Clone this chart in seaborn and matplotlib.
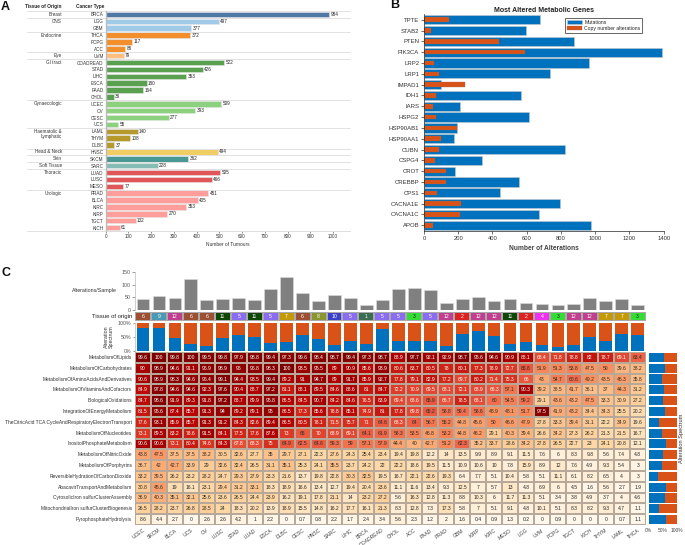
import numpy as np
import pandas as pd
import seaborn as sns
import matplotlib
matplotlib.use('Agg')
import matplotlib.pyplot as plt
from matplotlib.colors import ListedColormap

# panel A
tissues = ['Breast', 'CNS', 'Endocrine', 'Eye', 'GI tract', 'Gynaecologic', 'Haematolic &\nLymphatic',
           'Head & Neck', 'Skin', 'Soft Tissue', 'Thoracic', 'Urologic']
tissue_types = [['BRCA'], ['LGG', 'GBM'], ['THCA', 'PCPG', 'ACC'], ['UVM'],
                ['COADREAD', 'STAD', 'LIHC', 'ESCA', 'PAAD', 'CHOL'], ['UCEC', 'OV', 'CESC', 'UCS'],
                ['LAML', 'THYM', 'DLBC'], ['HNSC'], ['SKCM'], ['SARC'], ['LUAD', 'LUSC', 'MESO'],
                ['PRAD', 'BLCA', 'KIRC', 'KIRP', 'TGCT', 'KICH']]
tissue_colors = ['#4e79a7', '#a0cbe8', '#f28e2b', '#ffbe7d', '#59a14f', '#8cd17d', '#b6992d',
                 '#f1ce63', '#499894', '#86bcb6', '#e15759', '#ff9d9a']
tumours = [984, 497, 377, 372, 117, 86, 79, 522, 426, 353, 180, 164, 36, 509, 393, 277, 55, 140, 108, 37,
           494, 362, 228, 505, 466, 77, 451, 405, 353, 270, 132, 61]

# panel B
genes = ['TPTE', 'STAB2', 'PTEN', 'PIK3CA', 'LRP2', 'LRP1', 'IMPAD1', 'IDH1', 'IARS', 'HSPG2', 'HSP90AB1',
         'HSP90AA1', 'CUBN', 'CSPG4', 'CROT', 'CREBBP', 'CPS1', 'CACNA1E', 'CACNA1C', 'APOB']
mutations = [680, 595, 875, 1388, 965, 738, 100, 568, 208, 613, 195, 178, 825, 338, 183, 557, 443, 793, 672, 978]
copy_number = [145, 40, 437, 588, 58, 85, 240, 70, 52, 72, 190, 97, 85, 65, 127, 126, 75, 218, 212, 52]

# panel C
pathways = ['MetabolismOfLipids', 'MetabolismOfCarbohydrates', 'MetabolismOfAminoAcidsAndDerivatives',
            'MetabolismOfVitaminsAndCofactors', 'BiologicalOxidations', 'IntegrationOfEnergyMetabolism',
            'TheCitricAcid TCA CycleAndRespiratoryElectronTransport', 'MetabolismOfNucleotides',
            'InositolPhosphateMetabolism', 'MetabolismOfNitricOxide', 'MetabolismOfPorphyrins',
            'ReversibleHydrationOfCarbonDioxide', 'AbacavirTransportAndMetabolism',
            'CytosolicIron sulfurClusterAssembly', 'MitochondrialIron sulfurClusterBiogenesis',
            'PyrophosphateHydrolysis']
cancers = ['UCEC', 'SKCM', 'BLCA', 'UCS', 'OV', 'LUSC', 'STAD', 'LUAD', 'ESCA', 'DLBC', 'CESC', 'HNSC', 'SARC',
           'LIHC', 'BRCA', 'COADREAD', 'CHOL', 'ACC', 'PAAD', 'PRAD', 'GBM', 'KIRP', 'KIRC', 'MESO', 'LGG', 'UVM',
           'PCPG', 'TGCT', 'KICH', 'THYM', 'LAML', 'THCA']
alt_per_sample = [42, 55, 46, 122, 39, 41, 45, 38, 84, 132, 66, 36, 58, 46, 19, 38, 84, 85, 78, 28, 43, 49, 36,
                  42, 28, 22, 19, 22, 46, 36, 43, 19]
origin = [6, 9, 12, 6, 6, 11, 5, 11, 5, 7, 6, 8, 10, 5, 1, 5, 5, 3, 5, 12, 2, 12, 12, 11, 2, 4, 3, 12, 12, 7, 7, 3]
origin_colors = ['#3a6e52', '#dd2222', '#33dd33', '#ee33ee', '#8a6cf0', '#9c4f33', '#c39a05', '#8a9530',
                 '#4a9ab5', '#3a3fc8', '#0f4708', '#c0408f']
mut_share = [82, 82, 46, 25, 17, 45, 56, 51, 29, 32, 56, 42, 23, 35, 25, 79, 35, 35, 35, 18, 60, 71, 52, 24, 32,
             23, 13, 23, 49, 35, 62, 56]
path_mut_share = [53, 59, 46, 54, 51, 57, 37, 46, 61, 50, 46, 32, 62, 57, 35, 60]
heat = [
    [99.6, 100, 99.8, 100, 99.5, 99.8, 97.9, 98.8, 99.4, 97.3, 99.6, 98.4, 98.7, 99.4, 97.3, 98.7, 88.9, 97.7, 92.1, 92.9, 98.7, 95.6, 94.6, 90.9, 88.1, 68.4, 71.8, 78.8, 82, 78.7, 69.1, 63.4],
    [90, 98.9, 94.6, 91.1, 96.9, 98.9, 96, 96.8, 98.3, 100, 93.5, 95.5, 89, 90.9, 85.6, 93.9, 80.6, 83.7, 80.5, 78, 80.1, 77.3, 78.9, 72.7, 65.8, 51.9, 51.3, 53.8, 47.5, 50, 39.6, 38.2],
    [90.6, 98.9, 98.3, 94.6, 96.4, 99.1, 94.4, 93.5, 99.4, 89.2, 91, 94.7, 89, 91.7, 85.9, 92.7, 77.8, 79.1, 82.9, 77.2, 69.7, 80.2, 71.4, 75.3, 66, 43, 54.7, 60.6, 49.2, 43.5, 46.3, 35.8],
    [84.9, 97.8, 94.6, 94.6, 92.3, 97.6, 90.4, 88.7, 97.2, 81.1, 88.1, 89.5, 84.6, 88.6, 81, 84.7, 72.2, 70.9, 69.5, 68.1, 72.1, 68.9, 66.3, 57.1, 90.3, 39.2, 38.5, 41.7, 36.1, 37, 44.3, 31.2],
    [84.7, 98.6, 91.9, 89.3, 91.8, 97.2, 88.7, 89.9, 95.8, 86.5, 84.5, 90.7, 84.2, 84.6, 76.5, 83.9, 69.4, 68.6, 65.9, 66.7, 78.5, 68.1, 60, 54.5, 59.2, 29.1, 43.6, 43.2, 47.5, 33.3, 30.9, 27.2],
    [81.5, 95.6, 87.4, 85.7, 91.3, 94, 89.2, 89.1, 95, 86.5, 77.3, 85.6, 78.8, 85.1, 74.9, 81, 77.8, 69.8, 65.2, 58.8, 59.4, 58.6, 48.9, 48.1, 51.7, 97.5, 41.9, 43.2, 34.4, 34.3, 25.5, 20.2],
    [77.6, 93.1, 85.9, 85.7, 91.3, 91.2, 84.3, 82.6, 89.4, 86.5, 80.5, 78.1, 71.5, 75.7, 71, 64.6, 68.3, 64, 56.7, 55.2, 44.8, 45.6, 50, 46.6, 47.9, 27.8, 33.3, 39.4, 31.1, 22.2, 34.9, 19.6],
    [73.1, 89.5, 83.2, 78.6, 91.5, 84.1, 77.5, 77.6, 87.6, 73, 65, 70, 68.9, 69.1, 64.1, 61.9, 58.3, 53.5, 46.8, 53.2, 44.8, 46.2, 29.1, 40.3, 39.4, 26.6, 34.2, 27.3, 26.2, 21.3, 21.5, 16.7],
    [90.6, 90.6, 73.1, 80.4, 74.6, 84.3, 67.8, 68.3, 75, 64.9, 62.5, 64.6, 59.3, 59, 57.1, 57.9, 44.4, 40, 42.7, 51.2, 62.3, 35.2, 33.7, 28.6, 34.2, 27.8, 26.5, 22.7, 23, 24.1, 20.8, 12.1],
    [43.8, 47.5, 37.5, 37.5, 38.2, 30.5, 32.6, 27.7, 35, 29.7, 27.1, 22.3, 27.6, 24.3, 25.4, 23.4, 19.4, 19.8, 12.2, 14, 13.5, 9.9, 8.9, 9.1, 11.5, 7.6, 6, 8.3, 9.8, 5.6, 7.4, 4.8],
    [36.7, 42, 42.7, 33.9, 29, 32.6, 32.4, 26.5, 31.1, 35.1, 25.3, 24.1, 35.5, 23.7, 24.2, 22, 22.2, 18.6, 19.5, 11.5, 10.9, 10.6, 10, 7.8, 15.9, 8.9, 12, 7.6, 4.9, 9.3, 5.4, 3],
    [33.2, 39.5, 26.2, 23.2, 28.2, 24.7, 29.3, 27.9, 23.3, 21.6, 13.7, 19.8, 22.8, 30.3, 32.5, 19.5, 16.7, 22.1, 22.6, 19.3, 6.4, 7.7, 5.1, 10.4, 5.8, 5.1, 11.1, 6.1, 8.2, 6.5, 4, 3],
    [30.8, 45.6, 19, 16.1, 23.1, 29.4, 31.2, 33.1, 18.3, 18.9, 16.6, 13.4, 12.7, 19.4, 20.4, 23.6, 11.1, 11.6, 13.4, 9.3, 12.5, 7, 5.7, 13, 4.8, 6.9, 6, 4.5, 1.6, 5.6, 2.7, 1.9],
    [36.9, 40.3, 35.1, 32.1, 25.6, 23.6, 26.5, 24.4, 23.9, 16.2, 19.1, 17.8, 21.1, 14, 23.2, 27.2, 5.6, 16.3, 12.8, 11.3, 8.8, 10.3, 6, 11.7, 11.3, 5.1, 3.4, 3.8, 4.9, 3.7, 4, 4.6],
    [26.5, 28.2, 23.7, 26.8, 28.5, 24, 18.3, 20.2, 13.9, 18.9, 15.5, 14.8, 16.2, 17.7, 16.1, 21.3, 8.3, 12.8, 7.3, 17.3, 5.8, 7, 5.1, 9.1, 4.8, 10.1, 5.1, 8.3, 8.2, 9.3, 4.7, 1.1],
    [8.6, 4.4, 2.7, 0, 2.6, 2.6, 4.2, 1, 2.2, 0, 0.7, 0.8, 2.2, 1.7, 2.4, 3.4, 5.6, 2.3, 1.2, 2, 1.6, 0.4, 0.9, 1.3, 0.2, 0, 0.9, 0, 0, 0, 0.7, 1.1],
]

W, H = 685, 545
BLUE = '#0072bd'
ORANGE = '#d95319'

sns.set_theme(style='white')
plt.rcParams['font.family'] = ['Liberation Sans', 'DejaVu Sans']
plt.rcParams['axes.linewidth'] = 0.5


def axes_px(fig, x0, y0, x1, y1):
    # axes from pixel box, y counted from the top
    return fig.add_axes([x0 / W, 1 - y1 / H, (x1 - x0) / W, (y1 - y0) / H])


def panel_a(fig):
    ax = axes_px(fig, 105.7, 11, 350, 231)
    rows = []
    first_rows = []
    for tissue, types, color in zip(tissues, tissue_types, tissue_colors):
        first_rows.append(len(rows))
        rows += [(t, tissue, color) for t in types]
    df = pd.DataFrame(rows, columns=['type', 'tissue', 'color'])
    df['n'] = tumours
    palette = dict(zip(df['type'], df['color']))
    sns.barplot(data=df, x='n', y='type', hue='type', palette=palette, dodge=False, legend=False,
                width=0.8, saturation=1, edgecolor='#e6e6e6', linewidth=0.4, ax=ax)
    for i, v in enumerate(tumours):
        ax.text(v + 6, i, str(v), fontsize=3.3, va='center', color='#222222')
    ax.set_xlim(0, 1075)
    ax.set_ylim(len(rows) - 0.5, -0.5)
    ax.set_xticks(range(0, 1001, 100))
    ax.tick_params(axis='x', labelsize=3.3, length=1.5, width=0.4, pad=1, colors='#333333', bottom=True)
    ax.tick_params(axis='y', labelsize=3.3, length=0, pad=1.5, colors='#333333')
    ax.set_ylabel('')
    ax.set_xlabel('Number of Tumours', fontsize=3.5, labelpad=1.5, color='#333333')
    sns.despine(ax=ax, top=True, right=True)
    ax.spines['left'].set_color('#bbbbbb')
    ax.spines['left'].set_linewidth(1)
    ax.spines['bottom'].set_color('#dddddd')
    trans = ax.get_yaxis_transform()
    x_left = (27 - 105.7) / (350 - 105.7)
    x_tissue = (62 - 105.7) / (350 - 105.7)
    for row, tissue in zip(first_rows, tissues):
        ax.plot([x_left, 1], [row - 0.5, row - 0.5], color='#e2e2e2', lw=0.7, transform=trans, clip_on=False)
        ax.text(x_tissue, row - 0.3 if '\n' in tissue else row, tissue, fontsize=3.3, ha='right',
                va='top' if '\n' in tissue else 'center', color='#333333', transform=trans, linespacing=0.95)
    ax.plot([x_left, 1], [len(rows) - 0.5] * 2, color='#e2e2e2', lw=0.7, transform=trans, clip_on=False)
    ax.text(x_tissue, -0.75, 'Tissue of Origin', fontsize=3.4, fontweight='bold', ha='right',
            va='bottom', transform=trans, color='#222222')
    ax.text(-0.004, -0.75, 'Cancer Type', fontsize=3.4, fontweight='bold', ha='right', va='bottom',
            transform=trans, color='#222222')


def panel_b(fig):
    ax = axes_px(fig, 424, 14.3, 663.7, 230.7)
    df = pd.DataFrame({'gene': genes, 'mut': mutations, 'cna': copy_number})
    sns.barplot(data=df, x='mut', y='gene', color=BLUE, saturation=1, width=0.85, edgecolor='#c4c8cc',
                linewidth=0.4, label='Mutations', ax=ax)
    sns.barplot(data=df, x='cna', y='gene', color=ORANGE, saturation=1, width=0.42, edgecolor='#8a6a5a',
                linewidth=0.2, label='Copy number alterations', ax=ax)
    ax.set_xlim(0, 1400)
    ax.set_ylim(len(genes) - 0.5, -0.5)
    ax.set_xticks(range(0, 1401, 200))
    ax.tick_params(axis='both', length=2, width=0.5, direction='out', color='#333333', bottom=True, left=True)
    ax.tick_params(axis='x', labelsize=4.2, pad=1.5, labelcolor='#333333')
    ax.tick_params(axis='y', labelsize=4.3, pad=1.5, labelcolor='#333333')
    ax.set_ylabel('')
    ax.set_xlabel('Number of Alterations', fontsize=4.8, fontweight='bold', color='#444444', labelpad=3)
    ax.set_title('Most Altered Metabolic Genes', fontsize=5, fontweight='bold', color='#222222', pad=1.5)
    sns.despine(ax=ax, top=True, right=True)
    leg = ax.legend(loc='upper left', bbox_to_anchor=((565 - 424) / 239.7, 1 - (18 - 14.3) / 216.4), fontsize=3.7,
                    frameon=True, fancybox=False, edgecolor='#666666', framealpha=1, borderpad=0.35, labelspacing=0.25,
                    handlelength=3, handletextpad=0.4, borderaxespad=0)
    leg.get_frame().set_linewidth(0.7)


def panel_c(fig):
    x0, x1 = 135, 645.7
    df = pd.DataFrame({'cancer': cancers, 'alt': alt_per_sample, 'mut': mut_share})
    df['total'] = 100

    # alterations per sample
    ax = axes_px(fig, x0, 272, x1, 309.7)
    sns.barplot(data=df, x='cancer', y='alt', color='#808080', saturation=1, width=0.8, edgecolor='#dcdcdc',
                linewidth=0.4, ax=ax)
    ax.set_xlim(-0.5, 31.5)
    ax.set_ylim(0, 150)
    ax.set_yticks([0, 50, 100, 150])
    ax.set_xticks([])
    ax.set_xlabel('')
    ax.set_ylabel('')
    ax.tick_params(axis='y', labelsize=3.8, length=2, width=0.4, pad=1, colors='#555555', left=True)
    sns.despine(ax=ax, top=True, right=True, bottom=True)
    ax.spines['left'].set_color('#bbbbbb')
    ax.text(-0.035, 0.5, 'Alterations/Sample', fontsize=3.8, color='#333333', ha='right', va='center', transform=ax.transAxes)

    # tissue of origin strip
    ax = axes_px(fig, x0, 312, x1, 321)
    strip = np.array([origin])
    sns.heatmap(strip, cmap=ListedColormap(origin_colors), vmin=0.5, vmax=12.5, cbar=False, annot=True, fmt='d',
                annot_kws={'fontsize': 3.7}, linewidths=0.2, linecolor='#aaaaaa', xticklabels=False,
                yticklabels=False, ax=ax)
    ax.text(-0.005, 0.5, 'Tissue of origin', fontsize=4.3, color='#222222', ha='right', va='center',
            transform=ax.transAxes)

    # spectrum per cancer type
    ax = axes_px(fig, x0, 323, x1, 351)
    sns.barplot(data=df, x='cancer', y='total', color=ORANGE, saturation=1, width=0.8, edgecolor='none', linewidth=0, ax=ax)
    sns.barplot(data=df, x='cancer', y='mut', color=BLUE, saturation=1, width=0.8, edgecolor='none', linewidth=0, ax=ax)
    ax.set_xlim(-0.5, 31.5)
    ax.set_ylim(0, 100)
    ax.set_yticks([0, 50, 100])
    ax.set_yticklabels(['0%', '50%', '100%'])
    ax.set_xticks([])
    ax.set_xlabel('')
    ax.set_ylabel('')
    ax.tick_params(axis='y', labelsize=3.8, length=1.5, width=0.4, pad=1, colors='#555555', left=True)
    sns.despine(ax=ax, top=True, right=True, bottom=True)
    ax.spines['left'].set_color('#bbbbbb')
    ax.text(-0.051, 0.5, 'Alteration\nSpectrum', fontsize=3.8, color='#333333', rotation=90, ha='center', va='center',
            transform=ax.transAxes, linespacing=1)

    # pathway heatmap
    ax = axes_px(fig, x0, 352, x1, 525)
    table = pd.DataFrame(heat, index=pathways, columns=cancers)
    sns.heatmap(table, cmap='OrRd', vmin=0, vmax=100, cbar=False, annot=True, fmt='g', annot_kws={'fontsize': 3.6},
                linewidths=0.3, linecolor='#b8a89a', xticklabels=True, yticklabels=True, ax=ax)
    # reference keeps dark text further up the scale than seaborn's own contrast rule
    for txt, v in zip(ax.texts, np.array(heat).ravel()):
        txt.set_color('white' if v >= 66 else '#2a2a2a')
    ax.tick_params(axis='both', length=0)
    ax.tick_params(axis='y', labelsize=3.5, pad=2, labelcolor='#333333')
    ax.tick_params(axis='x', labelsize=3.7, pad=2, labelcolor='#444444')
    plt.setp(ax.get_yticklabels(), rotation=0)
    plt.setp(ax.get_xticklabels(), rotation=35, ha='right', rotation_mode='anchor')

    # spectrum per pathway
    ax = axes_px(fig, 648.7, 352, 676.7, 525)
    side = pd.DataFrame({'pathway': pathways, 'mut': path_mut_share, 'total': 100})
    sns.barplot(data=side, x='total', y='pathway', color=ORANGE, saturation=1, width=0.84, edgecolor='none', linewidth=0, ax=ax)
    sns.barplot(data=side, x='mut', y='pathway', color=BLUE, saturation=1, width=0.84, edgecolor='none', linewidth=0, ax=ax)
    ax.set_xlim(0, 100)
    ax.set_ylim(15.5, -0.5)
    ax.set_xticks([0, 50, 100])
    ax.set_xticklabels(['0%', '50%', '100%'])
    ax.set_yticks([])
    ax.set_xlabel('')
    ax.set_ylabel('')
    ax.tick_params(axis='x', labelsize=3.5, length=0, pad=2, colors='#444444')
    sns.despine(ax=ax, top=True, right=True, bottom=True, left=True)
    ax.text(1.16, 0.5, 'Alteration Spectrum', fontsize=4.1, rotation=90, color='#333333', ha='center', va='center',
            transform=ax.transAxes)


fig = plt.figure(figsize=(W / 100, H / 100), dpi=100)
panel_a(fig)
panel_b(fig)
panel_c(fig)
fig.text(1 / W, 1 - 7 / H, 'A', fontsize=9, fontweight='bold', va='center', color='#111111')
fig.text(390 / W, 1 - 5 / H, 'B', fontsize=9, fontweight='bold', va='center', color='#111111')
fig.text(1 / W, 1 - 273 / H, 'C', fontsize=9, fontweight='bold', va='center', color='#111111')
fig.savefig('out.png', dpi=100)
